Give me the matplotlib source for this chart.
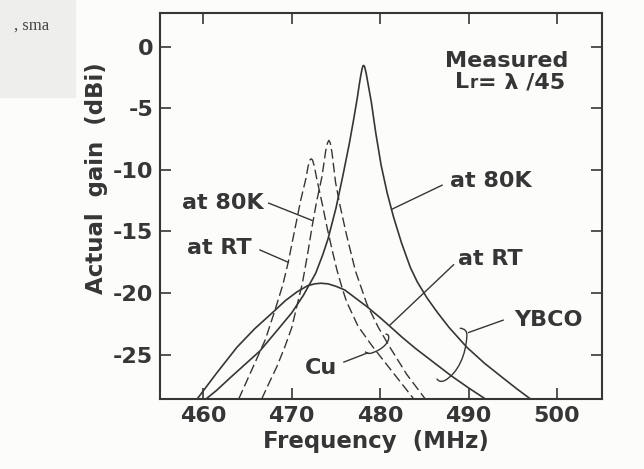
import numpy as np
import matplotlib
matplotlib.use("Agg")
import matplotlib.pyplot as plt
from matplotlib.path import Path
from matplotlib.patches import PathPatch, Rectangle
from matplotlib.transforms import Bbox

plt.rcParams["axes.unicode_minus"] = False

# gain curves (MHz, dBi)
ybco_80k_f = [460.3, 461.5, 463.0, 464.7, 466.4, 468.5, 470.0, 471.3, 472.7, 473.5, 474.1,
              475.0, 475.8, 476.5, 477.0, 477.4, 477.65, 477.8, 477.95, 478.05, 478.15,
              478.25, 478.4, 478.6, 479.0, 479.5, 480.1, 480.8, 481.5, 482.4, 483.4, 484.2,
              485.3, 486.5, 487.8, 489.8, 491.8, 493.9, 495.5, 497.0]
ybco_80k_g = [-28.6, -27.9, -26.9, -25.8, -24.7, -22.9, -21.6, -20.2, -18.4, -16.9, -15.6,
              -13.1, -10.4, -7.9, -5.9, -4.2, -3.0, -2.35, -1.8, -1.55, -1.52,
              -1.65, -2.1, -2.9, -4.5, -7.0, -9.6, -11.9, -13.8, -15.9, -17.9, -19.1,
              -20.4, -21.6, -22.8, -24.4, -25.7, -26.9, -27.8, -28.6]

ybco_rt_f = [459.3, 461.5, 463.8, 465.8, 467.8, 469.3, 470.6, 471.8, 472.6, 473.3, 474.1,
             475.0, 476.0, 477.2, 478.5, 480.0, 481.1, 482.5, 484.0, 486.0, 488.0, 490.0, 491.9]
ybco_rt_g = [-28.6, -26.5, -24.4, -22.9, -21.6, -20.6, -19.9, -19.4, -19.25, -19.2, -19.25,
             -19.45, -19.75, -20.4, -21.1, -22.0, -22.7, -23.6, -24.5, -25.6, -26.7, -27.7, -28.6]

cu_80k_f = [466.6, 467.5, 468.3, 469.2, 470.0, 470.6, 471.2, 471.8, 472.3, 472.8, 473.4,
            473.65, 473.85, 474.05, 474.2, 474.35, 474.55, 474.75, 474.95, 475.4, 476.2,
            477.2, 478.5, 479.8, 481.1, 483.0, 485.1]
cu_80k_g = [-28.6, -27.2, -26.0, -24.4, -22.8, -21.0, -19.2, -16.8, -14.6, -12.6, -10.6,
            -9.4, -8.4, -7.8, -7.6, -7.8, -8.6, -9.8, -11.0, -12.7, -15.3,
            -18.2, -20.9, -22.8, -24.4, -26.6, -28.6]

cu_rt_f = [464.0, 465.5, 467.0, 468.1, 469.0, 469.6, 470.3, 471.0, 471.6, 471.85, 472.05,
           472.2, 472.35, 472.55, 472.85, 473.4, 474.0, 474.6, 475.1, 475.7, 476.2, 477.5,
           479.2, 481.5, 483.8]
cu_rt_g = [-28.6, -26.2, -23.8, -21.4, -19.3, -17.5, -15.0, -12.5, -10.7, -9.7, -9.2,
           -9.1, -9.2, -9.7, -10.8, -12.6, -14.7, -16.6, -18.1, -19.6, -20.7, -22.7,
           -24.4, -26.5, -28.6]

x_ticks = [460, 470, 480, 490, 500]
y_ticks = [0, -5, -10, -15, -20, -25]

ink = "#363636"
font = dict(family="DejaVu Sans", weight="bold", color=ink)

fig = plt.figure(figsize=(6.44, 4.69), dpi=100, facecolor="#fcfcfb")

# strip of the facing page in the corner
fig.patches.append(Rectangle((0, 1 - 97 / 469), 75 / 644, 97 / 469,
                             transform=fig.transFigure, color="#eeeeec", zorder=-5))
t = fig.text(14 / 644, 1 - 30 / 469, ", sma", family="Liberation Serif",
             fontsize=12, color="#444444", zorder=-4)
t.set_clip_box(Bbox.from_extents(0, 0, 75, 469))

ax = fig.add_axes([160 / 644, 70 / 469, 441.7 / 644, 386 / 469])
ax.set_facecolor("none")

lw = 1.2
ax.plot(ybco_80k_f, ybco_80k_g, color=ink, lw=lw)
ax.plot(ybco_rt_f, ybco_rt_g, color=ink, lw=lw)
ax.plot(cu_80k_f, cu_80k_g, color=ink, lw=1.0, dashes=(7, 3))
ax.plot(cu_rt_f, cu_rt_g, color=ink, lw=1.0, dashes=(7, 3))

ax.set_xlim(455.1, 505.05)
ax.set_ylim(-28.6, 2.74)
ax.set_xticks(x_ticks)
ax.set_yticks(y_ticks)
ax.tick_params(direction="in", length=8, width=1.2, top=True, right=True,
               labelsize=16, pad=5, colors=ink)
for lab in ax.get_xticklabels() + ax.get_yticklabels():
    lab.set_fontfamily("DejaVu Sans")
    lab.set_fontweight("bold")
for s in ax.spines.values():
    s.set_linewidth(1.5)
    s.set_color(ink)

ax.set_xlabel("Frequency  (MHz)", fontsize=16.5, **font)
ax.set_ylabel("Actual  gain  (dBi)", fontsize=16.5, **font)
ax.xaxis.set_label_coords(0.49, -0.08)
ax.yaxis.set_label_coords(-0.118, 0.573)

# headline text
ax.text(494.3, -1.63, "Measured", ha="center", va="baseline", fontsize=16, **font)
lr = ax.text(488.5, -3.38, "L", ha="left", va="baseline", fontsize=16, **font)
r = ax.annotate("r", xy=(1, 0), xycoords=lr, va="bottom", fontsize=12, **font)
ax.annotate("= \u03bb /45", xy=(1, 0), xycoords=r, va="bottom", fontsize=16, **font)

# curve labels with leader lines
labels = [
    ("at 80K", 487.9, -11.4, [(487.0, -11.24), (481.3, -13.2)]),
    ("at RT", 488.8, -17.7, [(488.3, -17.7), (481.1, -22.6)]),
    ("at 80K", 457.6, -13.2, [(467.4, -12.7), (472.3, -14.1)]),
    ("at RT", 458.2, -16.8, [(466.4, -16.5), (469.6, -17.5)]),
    ("YBCO", 495.1, -22.7, [(493.9, -22.2), (490.0, -23.2)]),
    ("Cu", 471.5, -26.55, [(475.9, -25.6), (478.6, -24.85)]),
]
for txt, x, y, pts in labels:
    ax.text(x, y, txt, ha="left", va="baseline", fontsize=16, **font)
    (x0, y0), (x1, y1) = pts
    ax.plot([x0, x1], [y0, y1], color=ink, lw=1.0)

# braces grouping the two curves of each material
C3, C4 = Path.CURVE3, Path.CURVE4
ybco_brace = Path(
    [(489.0, -22.85), (489.9, -22.9), (489.8, -23.5),
     (489.7, -25.0), (488.8, -26.5), (487.3, -27.1),
     (486.7, -27.3), (486.4, -26.95)],
    [Path.MOVETO, C3, C3, C4, C4, C4, C3, C3])
cu_brace = Path(
    [(478.3, -24.75), (478.6, -25.0), (479.1, -24.85),
     (480.2, -24.6), (481.1, -24.0), (480.95, -23.5),
     (480.9, -23.3), (480.6, -23.35)],
    [Path.MOVETO, C3, C3, C4, C4, C4, C3, C3])
for p in (ybco_brace, cu_brace):
    ax.add_patch(PathPatch(p, fill=False, edgecolor=ink, lw=1.0))

fig.savefig("out.png", dpi=100, facecolor=fig.get_facecolor())
